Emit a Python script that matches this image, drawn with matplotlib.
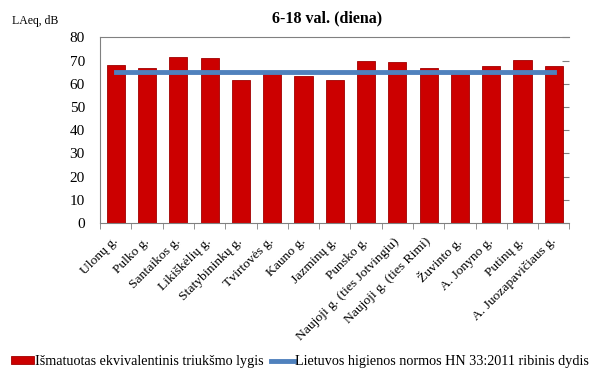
import matplotlib
matplotlib.use('Agg')
import matplotlib.pyplot as plt
import numpy as np

### Data
streets = ['Ulonų g.', 'Pulko g.', 'Santaikos g.', 'Likiškėlių g.', 'Statybininkų g.',
           'Tvirtovės g.', 'Kauno g.', 'Jazminų g.', 'Punsko g.',
           'Naujoji g. (ties Jotvingiu)', 'Naujoji g. (ties Rimi)', 'Žuvinto g.',
           'A. Jonyno g.', 'Putinų g.', 'A. Juozapavičiaus g.']
measured = [68.0, 66.8, 71.5, 71.0, 61.5, 64.6, 63.2, 61.8, 69.8, 69.2, 66.7, 64.4, 67.7, 70.1, 67.8]
limit = [65] * len(streets)
yticks = [0, 10, 20, 30, 40, 50, 60, 70, 80]

plt.rcParams['font.family'] = ['Liberation Serif', 'DejaVu Serif']

fig = plt.figure(figsize=(6, 3.73), dpi=100)
ax = fig.add_axes([0.167, 0.402, 0.782, 0.498])

x = np.arange(len(streets))
bars = ax.bar(x, measured, width=0.58, color='#cc0000', edgecolor='#a00000', linewidth=0.6,
              label='Išmatuotas ekvivalentinis triukšmo lygis', zorder=2)
line, = ax.plot(x, limit, color='#4f81bd', linewidth=3.5,
                label='Lietuvos higienos normos HN 33:2011 ribinis dydis', zorder=3)

ax.set_xlim(-0.5, len(streets) - 0.5)
ax.set_ylim(0, 80)
ax.set_yticks(yticks)
ax.tick_params(axis='y', labelsize=11, left=False, pad=11,
               right=True, direction='in', length=5, color='#808080')
ax.set_xticks(x)
ax.set_xticklabels(streets, rotation=45, ha='right', va='center', rotation_mode='anchor', fontsize=9.7)
ax.tick_params(axis='x', length=0, pad=12)
ax.set_xticks(np.arange(-0.5, len(streets)), minor=True)
ax.tick_params(axis='x', which='minor', length=4, direction='out', color='#808080')
for s in ax.spines.values():
    s.set_color('#808080')
ax.spines['right'].set_visible(False)

fig.text(0.02, 0.945, 'LAeq, dB', fontsize=8.5, va='center')
fig.text(0.545, 0.95, '6-18 val. (diena)', fontsize=11.5, fontweight='bold', ha='center', va='center')

fig.legend([bars, line], [bars.get_label(), line.get_label()],
           loc='center', bbox_to_anchor=(0.5, 0.03), ncol=2, frameon=False, fontsize=10.2,
           handlelength=1.6, handleheight=0.5, handletextpad=0.1, columnspacing=0.5)

plt.savefig('out.png', dpi=100)
plt.close()
